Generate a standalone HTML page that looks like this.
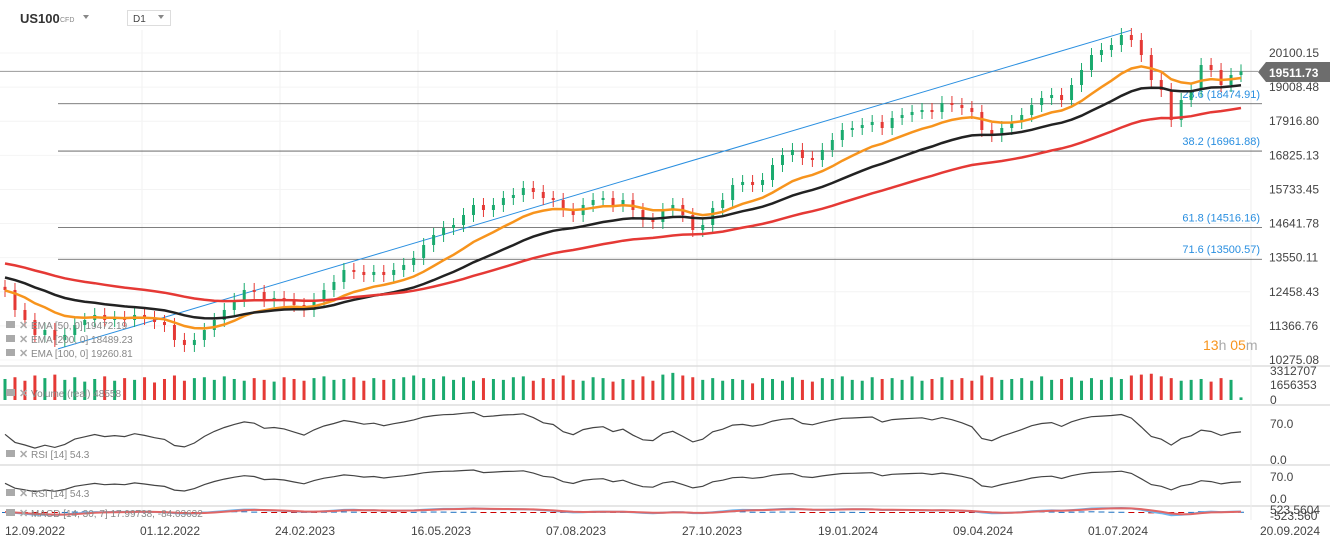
<!DOCTYPE html>
<html><head><meta charset="utf-8">
<style>
html,body{margin:0;padding:0;background:#fff;width:1330px;height:547px;overflow:hidden;font-family:"Liberation Sans",sans-serif}
svg text{font-family:"Liberation Sans",sans-serif}
</style></head>
<body>
<svg id="c" width="1330" height="547" xmlns="http://www.w3.org/2000/svg">
<g id="grid"></g>
<g>
<text x="20" y="23" font-size="13" font-weight="bold" fill="#333">US100</text>
<text x="60" y="22" font-size="7" fill="#888">CFD</text>
<path d="M83 15 l6 0 l-3 4 z" fill="#888"/>
<rect x="127.5" y="10.5" width="43" height="15" fill="#fff" stroke="#ddd"/>
<text x="133" y="22" font-size="10" fill="#444">D1</text>
<path d="M158 15 l6 0 l-3 4 z" fill="#888"/>
</g>
<g id="fib"></g>
<g id="candles"></g>
<g id="emas"></g>
<g id="vol"></g>
<g id="rsi"></g>
<g id="macd"></g>
<g id="axis"></g>
<g id="legend" font-size="10" fill="#888"></g>
</svg>
<script>
const closes=[12516,11876,11556,11076,11236,10916,11076,11396,11556,11716,11556,11620,11556,11716,11620,11492,11396,10916,10756,10916,11236,11556,11876,12196,12516,12452,12196,12260,12196,12036,11876,12196,12516,12772,13156,13092,12996,13092,12996,13156,13316,13540,13956,14276,14500,14596,14916,15236,15076,15236,15460,15556,15780,15652,15460,15396,15076,14916,15236,15396,15460,15236,15396,15076,14756,14692,15076,15236,14916,14436,14596,15140,15396,15876,15972,15876,16036,16516,16836,16996,16740,16676,16996,17316,17636,17700,17796,17892,17700,18020,18116,18212,18276,18212,18500,18436,18340,18212,17636,17476,17700,17892,18116,18436,18660,18756,18596,19076,19556,20036,20196,20356,20676,20516,20036,19236,18916,17956,18596,18916,19716,19556,19076,19396,19512];
const volumes=[2.4,2.6,2.2,2.8,2.5,2.9,2.3,2.6,2.1,2.4,2.7,2.2,2.5,2.3,2.6,2.0,2.4,2.8,2.2,2.5,2.6,2.3,2.7,2.4,2.2,2.5,2.3,2.1,2.6,2.4,2.2,2.5,2.7,2.3,2.4,2.6,2.2,2.5,2.3,2.4,2.6,2.8,2.5,2.4,2.7,2.3,2.6,2.2,2.5,2.4,2.3,2.6,2.7,2.2,2.5,2.4,2.8,2.3,2.2,2.6,2.5,2.1,2.4,2.3,2.7,2.2,2.9,3.1,2.8,2.6,2.3,2.5,2.2,2.4,2.3,1.9,2.5,2.4,2.2,2.6,2.3,2.1,2.5,2.4,2.7,2.3,2.2,2.6,2.4,2.5,2.3,2.7,2.2,2.4,2.6,2.3,2.5,2.2,2.8,2.6,2.3,2.4,2.5,2.2,2.7,2.3,2.4,2.6,2.2,2.5,2.3,2.6,2.4,2.8,2.9,3.0,2.7,2.5,2.2,2.3,2.4,2.1,2.5,2.3,0.3];
const emaSeeds=[12500,12950,13400];
const emaPeriods=[12,24,47];
const fibRatios=["23.6","38.2","61.8","71.6"];
const fibValues=[18474.91,16961.88,14516.16,13500.57];
const priceTicks=[20100.15,19008.48,17916.80,16825.13,15733.45,14641.78,13550.11,12458.43,11366.76,10275.08];
const dateLabels=["12.09.2022","01.12.2022","24.02.2023","16.05.2023","07.08.2023","27.10.2023","19.01.2024","09.04.2024","01.07.2024","20.09.2024"];
const dateX=[35,170,305,441,576,712,848,983,1118,1290];
const lastPrice=19511.73;
const trendStart=[0,10630], trendEnd=[113,20830];

const NS="http://www.w3.org/2000/svg";
function el(t,a,p){const e=document.createElementNS(NS,t);for(const k in a)e.setAttribute(k,a[k]);(p||document.getElementById('c')).appendChild(e);return e;}
const N=closes.length;
const X=i=>5+i*(1236/(N-1));
const Y=v=>53+(20100.15-v)*307/9825.07;

const grid=document.getElementById('grid');
[142,280,418,557,697,835,973,1112].forEach(x=>{const l=el('line',{x1:x,x2:x,y1:30,y2:520,stroke:'#f0f0f0'},grid);});
priceTicks.forEach(v=>{const l=el('line',{x1:0,x2:1250,y1:Y(v),y2:Y(v),stroke:'#f4f4f4'},grid);});
[366,405,465,506].forEach(y=>{const l=el('line',{x1:0,x2:1330,y1:y,y2:y,stroke:'#ddd','stroke-width':1.5},grid);});
{const l=el('line',{x1:1251,x2:1251,y1:30,y2:520,stroke:'#eee'},grid);}

const fib=document.getElementById('fib');
{const l=el('line',{x1:0,x2:1258,y1:Y(lastPrice),y2:Y(lastPrice),stroke:'#999'},fib);}
fibValues.forEach((v,i)=>{
 const l=el('line',{x1:58,x2:1262,y1:Y(v),y2:Y(v),stroke:'#555','stroke-width':0.8},fib);
 const t=el('text',{x:1260,y:Y(v)-6,'font-size':11,fill:'#2a8fe0','text-anchor':'end'},fib);t.textContent=fibRatios[i]+' ('+v.toFixed(2)+')';
});
{const l=el('line',{x1:X(trendStart[0])+53,y1:Y(trendStart[1]),x2:X(trendEnd[0]),y2:Y(trendEnd[1]),stroke:'#2a8fe0','stroke-width':1},fib);}

const cg=document.getElementById('candles');
for(let i=0;i<N;i++){
 const o=i?closes[i-1]:closes[0]+100, c=closes[i];
 const up=c>=o, col=up?'#1aaa6e':'#e53935';
 const top=Y(Math.max(o,c)), bot=Y(Math.min(o,c));
 const w=el('line',{x1:X(i),x2:X(i),y1:top-7,y2:bot+7,stroke:col,'stroke-width':1},cg);
 const b=el('rect',{x:X(i)-1.5,y:top,width:3,height:Math.max(1,bot-top),fill:col},cg);
}
const eg=document.getElementById('emas');
const emaCols=['#f7941d','#222','#e53935'];
emaPeriods.forEach((p,k)=>{
 let e=emaSeeds[k];const a=2/(p+1);let d='';
 closes.forEach((c,i)=>{e=e+a*(c-e);d+=(i?'L':'M')+X(i).toFixed(1)+' '+Y(e).toFixed(1);});
 const pth=el('path',{d:d,fill:'none',stroke:emaCols[k],'stroke-width':2.5},eg);
});

const vg=document.getElementById('vol');
volumes.forEach((v,i)=>{const up=i==0||closes[i]>=closes[i-1];const h=v/3.312707*29;
 const r=el('rect',{x:X(i)-1.5,y:400-h,width:3,height:h,fill:up?'#1aaa6e':'#e53935'},vg);});

const rg=document.getElementById('rsi');
function rsi(period){const out=[];let ag=0,al=0;for(let i=0;i<N;i++){const ch=i?closes[i]-closes[i-1]:0;const g=Math.max(ch,0),l=Math.max(-ch,0);ag=i?(ag*(period-1)+g)/period:100;al=i?(al*(period-1)+l)/period:100;out.push(100-100/(1+ag/(al||1e-6)));}return out;}
const rv=rsi(8);
[[460,36/70],[499,22/70]].forEach(([b,s])=>{let d='';rv.forEach((v,i)=>{d+=(i?'L':'M')+X(i).toFixed(1)+' '+(b-v*s).toFixed(1);});
 const p=el('path',{d:d,fill:'none',stroke:'#444','stroke-width':1.2},rg);});

const mg=document.getElementById('macd');
{let f=closes[0],s=closes[0],sig=0;const m=[],sg=[];closes.forEach(c=>{f+=(2/5)*(c-f);s+=(2/9)*(c-s);const v=f-s;sig+=(2/4)*(v-sig);m.push(v);sg.push(sig);});
 const MY=v=>512-v*5/600;
 m.forEach((v,i)=>{const h=v-sg[i];const r=el('rect',{x:X(i)-3,y:Math.min(MY(h),512),width:6,height:Math.max(1,Math.abs(h)*5/600),fill:h>=0?'#1a6fc0':'#c00'},mg);});
 [[m,'#6bb6ee'],[sg,'#e06666']].forEach(([arr,col])=>{let d='';arr.forEach((v,i)=>{d+=(i?'L':'M')+X(i).toFixed(1)+' '+MY(v).toFixed(1);});const p=el('path',{d:d,fill:'none',stroke:col,'stroke-width':2},mg);});
}

const ax=document.getElementById('axis');
function T(x,y,s,o){const t=el('text',Object.assign({x:x,y:y,'font-size':12,fill:'#444'},o||{}),ax);t.textContent=s;return t;}
priceTicks.forEach(v=>{const t=T(1269,Y(v)+4,v.toFixed(2));});
{const p=el('path',{d:'M1258 72 L1266 62 L1330 62 L1330 82 L1266 82 Z',fill:'#6d6d6d'},ax);
 const t=T(1269,77,lastPrice.toFixed(2),{fill:'#fff','font-weight':'bold','font-size':12});}
[['3312707',375],['1656353',389],['0',404],['70.0',428],['0.0',464],['70.0',481],['0.0',503],['523.5604',514],['-523.560',520]].forEach(([s,y])=>{const t=T(1270,y,s);});
dateLabels.forEach((s,i)=>{const t=T(dateX[i],535,s,{'text-anchor':'middle'});});
{const t=el('text',{x:1203,y:350,'font-size':14,fill:'#f7941d'},ax);t.innerHTML='13<tspan fill="#aaa">h</tspan> 05<tspan fill="#aaa">m</tspan>';}

const lg=document.getElementById('legend');
[['EMA [50, 0] 19472.19',329],['EMA [200, 0] 18489.23',343],['EMA [100, 0] 19260.81',357],['Volume (real) 48558',397],['RSI [14] 54.3',458],['RSI [14] 54.3',497],['MACD [14, 30, 7] 17.99738, -84.03632',517]].forEach(([s,y])=>{
 const r=el('rect',{x:6,y:y-8,width:9,height:7,fill:'#aaa'},lg);
 const x=el('text',{x:19,y:y,'font-size':11,fill:'#aaa','font-weight':'bold'},lg);x.textContent='✕';
 const t=el('text',{x:31,y:y,'font-size':10,fill:'#888'},lg);t.textContent=s;
});
</script>
</body></html>
